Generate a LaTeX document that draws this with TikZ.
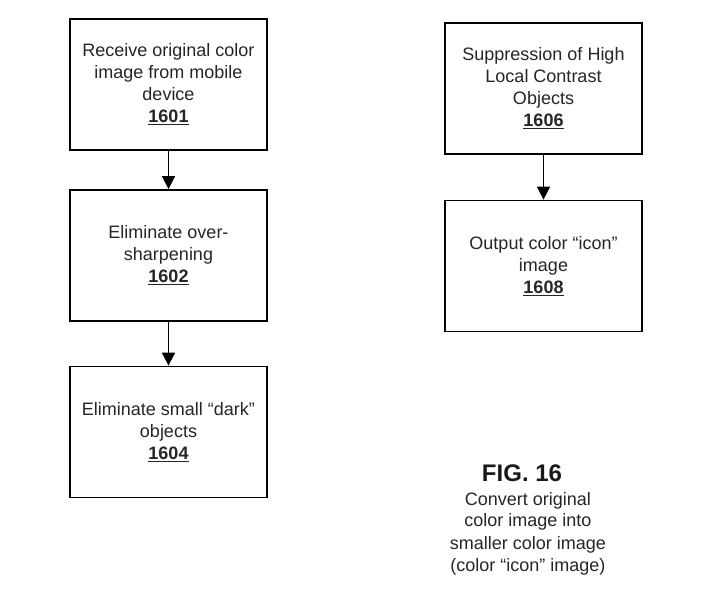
\documentclass[tikz,border=0pt]{standalone}
\usepackage{fontspec}
\setmainfont{Liberation Sans}
\usetikzlibrary{arrows.meta}
\begin{document}
\begin{tikzpicture}[x=1pt,y=1pt,
  stepbox/.style={draw=black, line width=1.8pt, minimum width=197pt, minimum height=131pt,
    align=center, inner sep=0pt, font=\fontsize{18}{22}\selectfont, text=black!85},
  flowarrow/.style={draw=black, line width=1.8pt, -{Triangle[length=13pt,width=13pt]}}]
\useasboundingbox (0,0) rectangle (722,610);
\fill[white] (0,0) rectangle (722,610);
\node[stepbox] (b1601) at (168.5,525.5) {Receive original color\\image from mobile\\device\\\underline{\textbf{1601}}};
\node[stepbox] (b1602) at (168.5,354.5) {Eliminate over-\\sharpening\\\underline{\textbf{1602}}};
\node[stepbox] (b1604) at (168.5,178) {Eliminate small “dark”\\objects\\\underline{\textbf{1604}}};
\node[stepbox] (b1606) at (543.5,521.5) {Suppression of High\\Local Contrast\\Objects\\\underline{\textbf{1606}}};
\node[stepbox] (b1608) at (543.5,344) {Output color “icon”\\image\\\underline{\textbf{1608}}};
\draw[flowarrow] (b1601) -- (b1602);
\draw[flowarrow] (b1602) -- (b1604);
\draw[flowarrow] (b1606) -- (b1608);
\node[anchor=base, font=\fontsize{24}{28}\selectfont\bfseries, text=black!90] (fig) at (522,128) {FIG. 16};
\node[anchor=base, align=center, inner sep=0pt, font=\fontsize{18}{22}\selectfont, text=black!85] (cap) at (528,39) {Convert original\\color image into\\smaller color image\\(color “icon” image)};
\end{tikzpicture}
\end{document}
